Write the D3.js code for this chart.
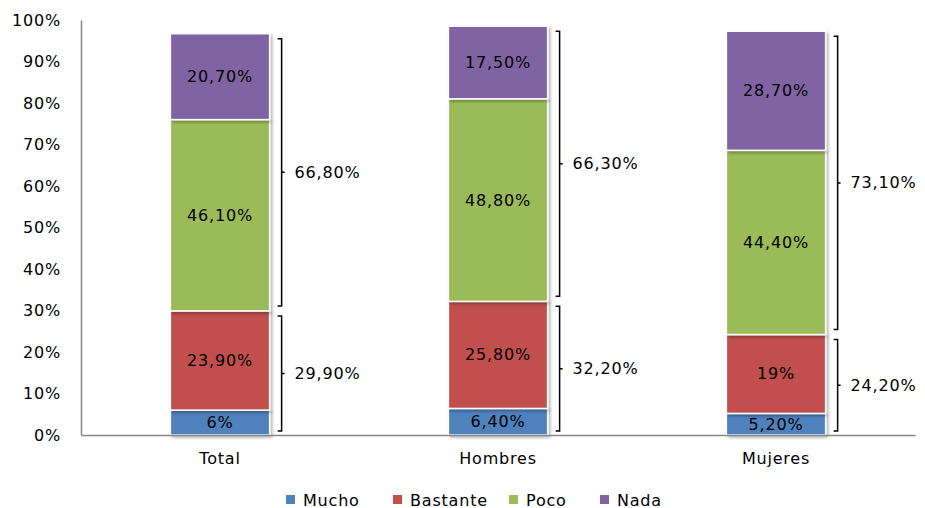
<!DOCTYPE html>
<html><head><meta charset="utf-8">
<script src="https://cdn.jsdelivr.net/npm/d3@7"></script>
<style>
body{margin:0;background:#fff;}
text{font-family:"DejaVu Sans",sans-serif;font-size:16px;letter-spacing:0.8px;fill:#000;}
</style></head>
<body><svg id="c" width="925" height="508"></svg>
<script>
const categories = ["Total","Hombres","Mujeres"];
const seriesNames = ["Mucho","Bastante","Poco","Nada"];
const mucho    = [6, 6.4, 5.2];
const bastante = [23.9, 25.8, 19];
const poco     = [46.1, 48.8, 44.4];
const nada     = [20.7, 17.5, 28.7];
const segLabels = [
  ["6%","23,90%","46,10%","20,70%"],
  ["6,40%","25,80%","48,80%","17,50%"],
  ["5,20%","19%","44,40%","28,70%"]
];
const lowerTotals = [29.9, 32.2, 24.2];
const upperTotals = [66.8, 66.3, 73.1];
const lowerLabels = ["29,90%","32,20%","24,20%"];
const upperLabels = ["66,80%","66,30%","73,10%"];
const yTicks = [0,10,20,30,40,50,60,70,80,90,100];
const colors = ["#4F81BD","#C0504D","#9BBB59","#8064A2"];

const svg = d3.select("#c");
const x = d3.scaleBand().domain(categories).range([81,915]).paddingInner(0.643).paddingOuter(0.3215);
const y = d3.scaleLinear().domain([0,100]).range([435,20]);

const rows = categories.map((c,i)=>({cat:c, Mucho:mucho[i], Bastante:bastante[i], Poco:poco[i], Nada:nada[i]}));
const stack = d3.stack().keys(seriesNames)(rows);

// shadow filter
const defs = svg.append("defs");
const f = defs.append("filter").attr("id","sh").attr("x","-10%").attr("y","-10%").attr("width","130%").attr("height","130%");
f.append("feGaussianBlur").attr("in","SourceAlpha").attr("stdDeviation",1.5);
f.append("feOffset").attr("dx",1.5).attr("dy",1.5).attr("result","o");
f.append("feComponentTransfer").append("feFuncA").attr("type","linear").attr("slope",0.3);
const m = f.append("feMerge"); m.append("feMergeNode"); m.append("feMergeNode").attr("in","SourceGraphic");

// y axis
const yAxis = d3.axisLeft(y).tickValues(yTicks).tickFormat(d=>d+"%").tickSize(0).tickPadding(20);
const gy = svg.append("g").attr("transform","translate(81,0)").call(yAxis);
gy.select(".domain").attr("stroke","#868686").attr("stroke-width",1.5);
gy.selectAll("text").style("font-family","DejaVu Sans").style("font-size","16px").attr("fill","#000");

// bars
stack.forEach((s,k)=>{
  svg.append("g").attr("filter","url(#sh)").selectAll("rect").data(s).join("rect")
    .attr("x",d=>x(d.data.cat)).attr("width",x.bandwidth())
    .attr("y",d=>y(d[1])).attr("height",d=>y(d[0])-y(d[1]))
    .attr("fill",colors[k]).attr("stroke","#fff").attr("stroke-width",1.5);
});
stack.forEach((s,k)=>{
  svg.append("g").selectAll("text").data(s).join("text")
    .attr("x",d=>x(d.data.cat)+x.bandwidth()/2)
    .attr("y",d=>(y(d[0])+y(d[1]))/2)
    .attr("text-anchor","middle").attr("dominant-baseline","central")
    .text((d,i)=>segLabels[i][k]);
});

// x axis
const xAxis = d3.axisBottom(x).tickSize(0).tickPadding(18);
const gx = svg.append("g").attr("transform","translate(0,435)").call(xAxis);
gx.select(".domain").attr("stroke","#868686").attr("stroke-width",1.5);
gx.selectAll("text").style("font-family","DejaVu Sans").style("font-size","16px").attr("fill","#000");

// brackets
function bracket(xv, y0, y1, label){
  const g = svg.append("g");
  const mid = (y0+y1)/2;
  g.append("path").attr("d",`M${xv-4},${y0}H${xv}V${y1}H${xv-4}M${xv},${mid}H${xv+3}`)
    .attr("fill","none").attr("stroke","#000").attr("stroke-width",1.5);
  g.append("text").attr("x",xv+13).attr("y",mid).attr("dominant-baseline","central").text(label);
}
categories.forEach((c,i)=>{
  const bx = x(c)+x.bandwidth()+12;
  bracket(bx, y(lowerTotals[i])+5, y(0)-4, lowerLabels[i]);
  bracket(bx, y(lowerTotals[i]+upperTotals[i])+5, y(lowerTotals[i])-5, upperLabels[i]);
});

// legend
const legX = [286, 393, 509, 600];
const lg = svg.append("g");
seriesNames.forEach((n,k)=>{
  lg.append("rect").attr("x",legX[k]).attr("y",495).attr("width",9).attr("height",9).attr("fill",colors[k]);
  lg.append("text").attr("x",legX[k]+17).attr("y",500).attr("dominant-baseline","central").text(n);
});
</script></body></html>
